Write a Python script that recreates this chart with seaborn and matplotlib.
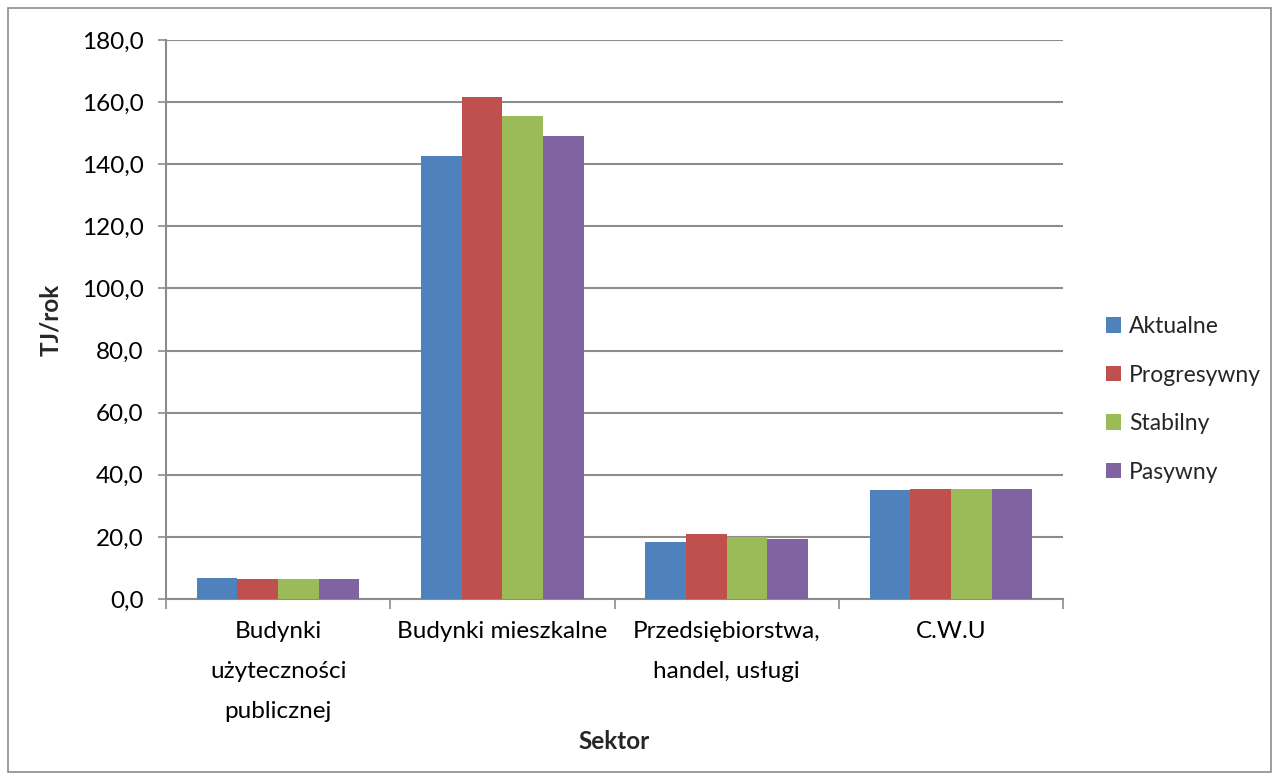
import matplotlib
matplotlib.use("Agg")
import matplotlib.pyplot as plt
import seaborn as sns
import pandas as pd
from matplotlib.patches import Rectangle
from matplotlib.ticker import FuncFormatter, FixedLocator

categories = ["Budynki\nużyteczności\npublicznej", "Budynki mieszkalne",
              "Przedsiębiorstwa,\nhandel, usługi", "C.W.U"]
series = ["Aktualne", "Progresywny", "Stabilny", "Pasywny"]
aktualne = [6.9, 142.7, 18.3, 35.0]
progresywny = [6.3, 161.7, 20.9, 35.3]
stabilny = [6.3, 155.5, 20.0, 35.3]
pasywny = [6.3, 149.0, 19.2, 35.3]
colors = ["#4F81BD", "#C0504D", "#9BBB59", "#8064A2"]

rows = []
for name, vals in zip(series, [aktualne, progresywny, stabilny, pasywny]):
    for c, v in zip(categories, vals):
        rows.append({"Sektor": c, "Scenariusz": name, "TJ/rok": v})
df = pd.DataFrame(rows)

sns.set_theme(style="white")
plt.rcParams["font.family"] = ["Lato", "DejaVu Sans"]

FS = 17.5
fig = plt.figure(figsize=(12.79, 7.8), dpi=100)
ax = fig.add_axes([166/1279, 1 - 599/780, (1063-166)/1279, (599-40)/780])

sns.barplot(data=df, x="Sektor", y="TJ/rok", hue="Scenariusz", order=categories,
            hue_order=series, palette=colors, width=0.725, gap=0,
            edgecolor="none", linewidth=0, saturation=1, ax=ax, zorder=3)

ax.set_ylim(0, 180)
ax.set_xlim(-0.5, 3.5)
ax.set_yticks(range(0, 181, 20))
ax.yaxis.set_major_formatter(FuncFormatter(lambda v, p: f"{v:.1f}".replace(".", ",")))
ax.grid(axis="y", color="#8C8C8C", linewidth=1.5, zorder=0)
ax.set_axisbelow(True)

for s in ["top", "right"]:
    ax.spines[s].set_visible(False)
for s in ["left", "bottom"]:
    ax.spines[s].set_color("#8C8C8C")
    ax.spines[s].set_linewidth(1.5)

ax.tick_params(axis="y", which="major", direction="out", length=6, width=1.2,
               color="#8C8C8C", left=True, labelsize=FS, pad=10, labelcolor="black")
ax.tick_params(axis="x", which="major", length=0, labelsize=FS, pad=16, labelcolor="black")
ax.xaxis.set_minor_locator(FixedLocator([-0.5, 0.5, 1.5, 2.5, 3.5]))
ax.tick_params(axis="x", which="minor", direction="out", length=7, width=1.2,
               color="#8C8C8C", bottom=True)
for lbl in ax.get_xticklabels():
    lbl.set_linespacing(2.1)
    lbl.set_multialignment("center")

ax.set_xlabel("Sektor", fontsize=FS, fontweight="bold", labelpad=6)
ax.set_ylabel("TJ/rok", fontsize=FS, fontweight="bold", labelpad=14)

ax.legend(loc="center left", bbox_to_anchor=(1.025, 0.357), frameon=False,
          fontsize=16.5, handlelength=0.65, handleheight=0.65, handletextpad=0.35,
          labelspacing=1.2, title=None)

fig.patches.append(Rectangle((8/1279, 8/780), 1 - 16/1279, 1 - 16/780,
                             transform=fig.transFigure, fill=False,
                             edgecolor="#8C8C8C", linewidth=1.2))

fig.savefig("out.png", dpi=100)
